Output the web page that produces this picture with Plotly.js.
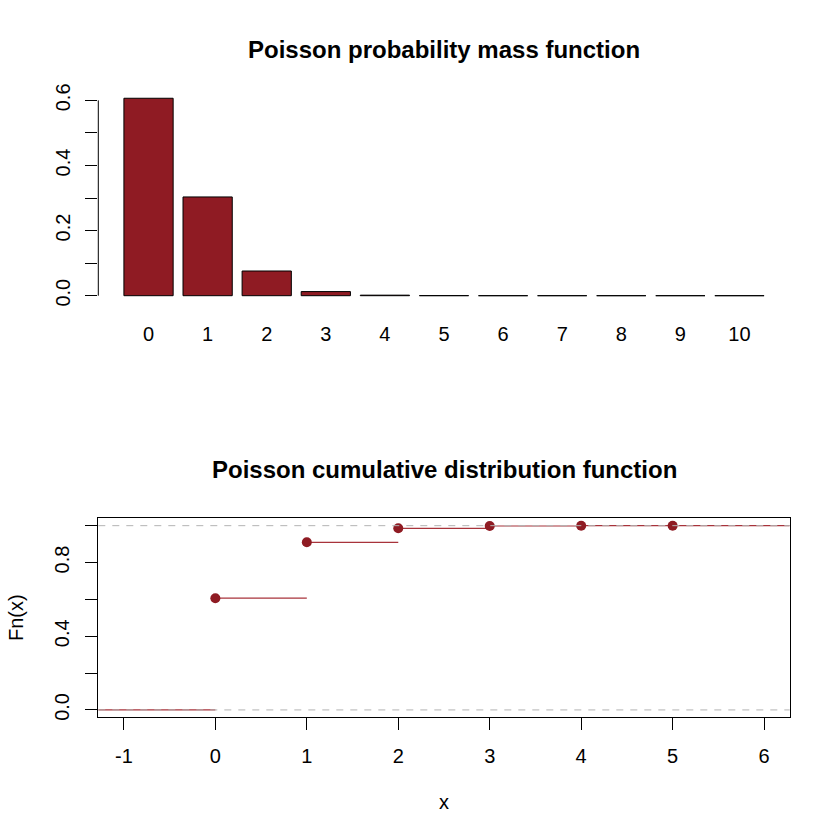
<!DOCTYPE html>
<html>
<head>
<meta charset="utf-8">
<script src="https://cdn.plot.ly/plotly-3.0.1.min.js"></script>
<style>
  html, body { margin: 0; padding: 0; background: #fff; }
  #plot { width: 840px; height: 840px; }
</style>
</head>
<body>
<div id="plot"></div>
<script>
// Poisson(lambda = 0.5) values
var pmfX = [0, 1, 2, 3, 4, 5, 6, 7, 8, 9, 10];
var pmfY = [0.6065, 0.3033, 0.0758, 0.0126, 0.0016, 0.0002, 0, 0, 0, 0, 0];
var pmfTickText = ['0', '1', '2', '3', '4', '5', '6', '7', '8', '9', '10'];
var pmfYTicks = [0, 0.1, 0.2, 0.3, 0.4, 0.5, 0.6];
var pmfYTickText = ['0.0', '', '0.2', '', '0.4', '', '0.6'];

var cdfX = [0, 1, 2, 3, 4, 5];
var cdfY = [0.6065, 0.9098, 0.9856, 0.9982, 0.9998, 1.0];
var cdfXTicks = [-1, 0, 1, 2, 3, 4, 5, 6];
var cdfXTickText = ['-1', '0', '1', '2', '3', '4', '5', '6'];
var cdfYTicks = [0, 0.2, 0.4, 0.6, 0.8, 1.0];
var cdfYTickText = ['0.0', '', '0.4', '', '0.8', ''];
var refLines = [0, 1];

var red = '#8f1b23';
var font = 'Liberation Sans, Arial, Helvetica, sans-serif';
var W = 840, H = 840;

// plot region in pixels (R default margins)
var left = 98.3, right = 789.7;
function px(y) { return 1 - y / H; }

var xr2 = [-1.28, 6.28];

// step function segments, no verticals
var stepX = [xr2[0], cdfX[0], null];
var stepY = [0, 0, null];
for (var i = 0; i < cdfX.length; i++) {
	var xe = i < cdfX.length - 1 ? cdfX[i + 1] : xr2[1];
	stepX.push(cdfX[i], xe, null);
	stepY.push(cdfY[i], cdfY[i], null);
}

var bars = {
	type: 'bar',
	x: pmfX,
	y: pmfY,
	xaxis: 'x',
	yaxis: 'y',
	marker: { color: red, line: { color: '#000', width: 1 } },
	hoverinfo: 'x+y'
};
var steps = {
	type: 'scatter',
	mode: 'lines',
	x: stepX,
	y: stepY,
	xaxis: 'x2',
	yaxis: 'y2',
	line: { color: '#a8333b', width: 1.2 },
	connectgaps: false,
	hoverinfo: 'skip'
};
var dots = {
	type: 'scatter',
	mode: 'markers',
	x: cdfX,
	y: cdfY,
	xaxis: 'x2',
	yaxis: 'y2',
	marker: { color: red, size: 10 }
};

var shapes = [{
	// y axis line of the barplot only spans the ticks
	type: 'line', xref: 'paper', yref: 'y',
	x0: left / W, x1: left / W, y0: pmfYTicks[0], y1: pmfYTicks[pmfYTicks.length - 1],
	line: { color: '#000', width: 1 }
}];
refLines.forEach(function(h) {
	shapes.push({
		type: 'line', xref: 'paper', yref: 'y2',
		x0: left / W, x1: right / W, y0: h, y1: h,
		line: { color: '#b3b3b3', width: 1, dash: '7px,7px' }
	});
});

var layout = {
	width: W,
	height: H,
	margin: { l: 0, r: 0, t: 0, b: 0 },
	paper_bgcolor: '#fff',
	plot_bgcolor: 'rgba(0,0,0,0)',
	showlegend: false,
	bargap: 1 / 6,
	font: { family: font, size: 20, color: '#000' },
	xaxis: {
		domain: [left / W, right / W],
		anchor: 'y',
		range: [-0.85, 10.85],
		tickvals: pmfX,
		ticktext: pmfTickText,
		ticks: '',
		showline: false,
		showgrid: false,
		zeroline: false,
		ticklabelstandoff: 18,
		fixedrange: true
	},
	yaxis: {
		domain: [px(302.2), px(90.6)],
		anchor: 'x',
		range: [-0.02, 0.63],
		tickvals: pmfYTicks,
		ticktext: pmfYTickText,
		tickangle: -90,
		ticks: 'outside',
		ticklen: 12,
		tickcolor: '#000',
		showline: false,
		showgrid: false,
		zeroline: false,
		ticklabelstandoff: 7,
		fixedrange: true
	},
	xaxis2: {
		domain: [left / W, right / W],
		anchor: 'y2',
		range: xr2,
		tickvals: cdfXTicks,
		ticktext: cdfXTickText,
		ticks: 'outside',
		ticklen: 12,
		tickcolor: '#000',
		showline: true,
		mirror: true,
		linecolor: '#000',
		linewidth: 1,
		showgrid: false,
		zeroline: false,
		ticklabelstandoff: 9,
		fixedrange: true
	},
	yaxis2: {
		domain: [px(717.3), px(518.3)],
		anchor: 'x2',
		range: [-0.04, 1.04],
		tickvals: cdfYTicks,
		ticktext: cdfYTickText,
		tickangle: -90,
		ticks: 'outside',
		ticklen: 12,
		tickcolor: '#000',
		showline: true,
		mirror: true,
		linecolor: '#000',
		linewidth: 1,
		showgrid: false,
		zeroline: false,
		ticklabelstandoff: 8,
		fixedrange: true
	},
	shapes: shapes,
	annotations: [{
		text: '<b>Poisson probability mass function</b>',
		xref: 'paper', yref: 'paper', x: 444 / W, y: px(49),
		xanchor: 'center', yanchor: 'middle', showarrow: false,
		font: { size: 24 }
	}, {
		text: '<b>Poisson cumulative distribution function</b>',
		xref: 'paper', yref: 'paper', x: 444 / W, y: px(469),
		xanchor: 'center', yanchor: 'middle', showarrow: false,
		font: { size: 24 }
	}, {
		text: 'x',
		xref: 'paper', yref: 'paper', x: 444 / W, y: px(802),
		xanchor: 'center', yanchor: 'middle', showarrow: false
	}, {
		text: 'Fn(x)',
		xref: 'paper', yref: 'paper', x: 16 / W, y: px(618),
		xanchor: 'center', yanchor: 'middle', showarrow: false,
		textangle: -90
	}]
};

Plotly.newPlot('plot', [bars, steps, dots], layout, { displayModeBar: false, staticPlot: true });
</script>
</body>
</html>
